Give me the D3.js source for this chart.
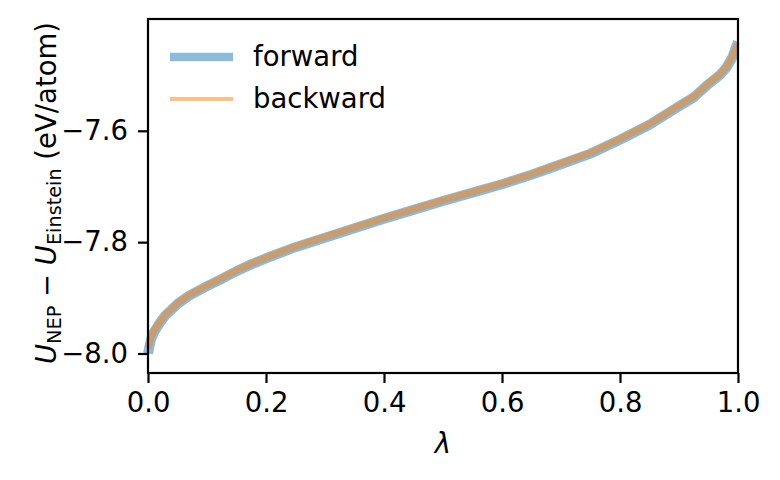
<!DOCTYPE html>
<html><head><meta charset="utf-8">
<script src="https://cdn.jsdelivr.net/npm/d3@7"></script>
<style>body{margin:0;background:#fff}svg{display:block}text{font-family:"DejaVu Sans",sans-serif;fill:#000}</style>
</head><body><svg id="c" width="780" height="480"></svg>
<script>
const lambdas = [0, 0.005, 0.01, 0.02, 0.03, 0.04, 0.05, 0.07, 0.1, 0.125, 0.15, 0.175, 0.2, 0.25, 0.3, 0.35, 0.4, 0.45, 0.5, 0.55, 0.6, 0.65, 0.7, 0.75, 0.8, 0.85, 0.9, 0.925, 0.95, 0.97, 0.98, 0.99, 1.0];
const forward = [-8.000, -7.975, -7.962, -7.945, -7.931, -7.921, -7.911, -7.896, -7.879, -7.866, -7.852, -7.840, -7.829, -7.809, -7.792, -7.775, -7.758, -7.742, -7.726, -7.711, -7.696, -7.679, -7.660, -7.641, -7.616, -7.589, -7.556, -7.540, -7.516, -7.499, -7.487, -7.469, -7.440];
const backward = [-7.990, -7.972, -7.960, -7.944, -7.930, -7.920, -7.910, -7.895, -7.878, -7.865, -7.851, -7.839, -7.828, -7.808, -7.791, -7.774, -7.757, -7.741, -7.725, -7.710, -7.695, -7.678, -7.659, -7.640, -7.615, -7.588, -7.555, -7.539, -7.515, -7.498, -7.486, -7.468, -7.445];
const xTicks = [0, 0.2, 0.4, 0.6, 0.8, 1.0];
const yTicks = [-8.0, -7.8, -7.6];
const seriesNames = ["forward", "backward"];

const svg = d3.select("#c");
const L = 148, R = 738, T = 19, B = 373;
const x = d3.scaleLinear().domain([0, 1]).range([L, R]);
const y = d3.scaleLinear().domain([-8.0, -7.6]).range([353.5, 130.8]);
const FS = 27.5;

const line = d3.line().x((d, i) => x(lambdas[i])).y(d => y(d)).curve(d3.curveLinear);
const g = svg.append("g");
g.append("path").datum(forward).attr("d", line).attr("fill", "none")
  .attr("stroke", "#1f77b4").attr("stroke-opacity", 0.5).attr("stroke-width", 10).attr("stroke-linejoin", "round");
g.append("path").datum(backward).attr("d", line).attr("fill", "none")
  .attr("stroke", "#ff7f0e").attr("stroke-opacity", 0.5).attr("stroke-width", 7).attr("stroke-linejoin", "round");

// white outside the axes (clipping)
svg.append("rect").attr("x", 0).attr("y", 0).attr("width", 780).attr("height", T).attr("fill", "#fff");
svg.append("rect").attr("x", R).attr("y", 0).attr("width", 780 - R).attr("height", 480).attr("fill", "#fff");

const xAxis = d3.axisBottom(x).tickValues(xTicks).tickFormat(d3.format(".1f")).tickSize(10).tickPadding(9);
const yAxis = d3.axisLeft(y).tickValues(yTicks).tickFormat(d => d3.format(".1f")(d).replace("-", "\u2212")).tickSize(10).tickPadding(10);
const gx = svg.append("g").attr("transform", `translate(0,${B})`).call(xAxis);
const gy = svg.append("g").attr("transform", `translate(${L},0)`).call(yAxis);
[gx, gy].forEach(a => {
  a.select(".domain").remove();
  a.selectAll(".tick line").attr("stroke", "#000").attr("stroke-width", 2.2);
  a.selectAll(".tick text").attr("font-size", FS).attr("font-family", "DejaVu Sans").attr("fill", "#000");
});
svg.append("rect").attr("x", L).attr("y", T).attr("width", R - L).attr("height", B - T)
  .attr("fill", "none").attr("stroke", "#000").attr("stroke-width", 2.2);

// x label
svg.append("text").attr("x", (L + R) / 2).attr("y", 453).attr("text-anchor", "middle")
  .attr("font-size", FS).attr("font-style", "italic").text("λ");

// y label
const yl = svg.append("text").attr("transform", `translate(56,${(T + B) / 2 - 3}) rotate(-90)`)
  .attr("text-anchor", "middle").attr("font-size", FS);
yl.append("tspan").attr("font-style", "italic").text("U");
yl.append("tspan").attr("font-size", FS * 0.7).attr("dy", 5).text("NEP");
yl.append("tspan").attr("dy", -5).text(" \u2212 ");
yl.append("tspan").attr("font-style", "italic").text("U");
yl.append("tspan").attr("font-size", FS * 0.7).attr("dy", 5).text("Einstein");
yl.append("tspan").attr("dy", -5).text(" (eV/atom)");

// legend
const leg = svg.append("g");
const legStyles = [{c: "#1f77b4", w: 8.3}, {c: "#ff7f0e", w: 4.2}];
seriesNames.forEach((n, i) => {
  const yy = 57 + i * 42;
  leg.append("line").attr("x1", 170).attr("x2", 233).attr("y1", yy).attr("y2", yy)
    .attr("stroke", legStyles[i].c).attr("stroke-opacity", 0.5).attr("stroke-width", legStyles[i].w);
  leg.append("text").attr("x", 253).attr("y", yy + 9).attr("font-size", FS).text(n);
});
</script></body></html>
